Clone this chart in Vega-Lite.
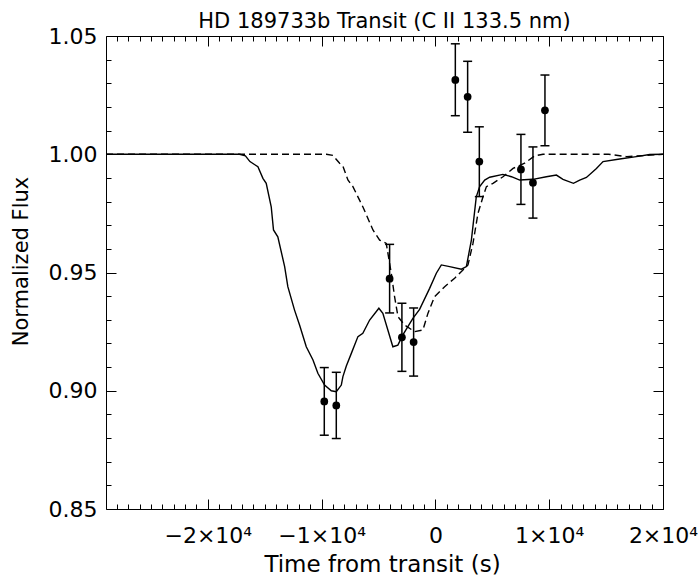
{
  "$schema": "https://vega.github.io/schema/vega-lite/v6.json",
  "width": 557,
  "height": 473,
  "autosize": {"type": "none"},
  "padding": {"left": 106, "top": 36, "right": 35, "bottom": 67},
  "background": "white",
  "config": {"view": {"stroke": "black", "strokeWidth": 1}, "axis": {"grid": false, "domain": false, "tickColor": "black", "tickWidth": 1, "labelColor": "black", "titleColor": "black", "labelFont": "DejaVu Sans", "titleFont": "DejaVu Sans", "titleFontWeight": "normal"}},
  "datasets": {
    "pts": [
      {"t": -9767, "flux": 0.8955, "lo": 0.8812, "hi": 0.9098},
      {"t": -8712, "flux": 0.8938, "lo": 0.8798, "hi": 0.9078},
      {"t": -4026, "flux": 0.9474, "lo": 0.9329, "hi": 0.9619},
      {"t": -2945, "flux": 0.9226, "lo": 0.9082, "hi": 0.937},
      {"t": -1916, "flux": 0.9206, "lo": 0.9062, "hi": 0.935},
      {"t": 1749, "flux": 1.0314, "lo": 1.0163, "hi": 1.0467},
      {"t": 2831, "flux": 1.0243, "lo": 1.0093, "hi": 1.0393},
      {"t": 3859, "flux": 0.9969, "lo": 0.9821, "hi": 1.0116},
      {"t": 7516, "flux": 0.9936, "lo": 0.9788, "hi": 1.0084},
      {"t": 8571, "flux": 0.988, "lo": 0.973, "hi": 1.0031},
      {"t": 9626, "flux": 1.0186, "lo": 1.0036, "hi": 1.0335}
    ],
    "solid": [
      {"t": -28950, "f": 1.0}, {"t": -17210, "f": 1.0}, {"t": -16700, "f": 0.9993}, {"t": -16300, "f": 0.9969},
      {"t": -15600, "f": 0.9947}, {"t": -15160, "f": 0.9898}, {"t": -14870, "f": 0.9877}, {"t": -14430, "f": 0.9778},
      {"t": -14230, "f": 0.968}, {"t": -13850, "f": 0.9651}, {"t": -13250, "f": 0.9525}, {"t": -12970, "f": 0.944},
      {"t": -12380, "f": 0.9341}, {"t": -11940, "f": 0.9278}, {"t": -11350, "f": 0.9186}, {"t": -10760, "f": 0.913},
      {"t": -10330, "f": 0.9074}, {"t": -9740, "f": 0.9024}, {"t": -9150, "f": 0.9}, {"t": -8710, "f": 0.8996},
      {"t": -8270, "f": 0.9024}, {"t": -8130, "f": 0.906}, {"t": -7830, "f": 0.9105}, {"t": -7390, "f": 0.9158},
      {"t": -6810, "f": 0.9229}, {"t": -6380, "f": 0.9243}, {"t": -5780, "f": 0.9299}, {"t": -4970, "f": 0.9349},
      {"t": -4620, "f": 0.9327}, {"t": -4180, "f": 0.9257}, {"t": -3740, "f": 0.9186}, {"t": -3300, "f": 0.9193},
      {"t": -2860, "f": 0.9236}, {"t": -1980, "f": 0.9306}, {"t": -1390, "f": 0.9344}, {"t": -510, "f": 0.9433},
      {"t": 80, "f": 0.9497}, {"t": 520, "f": 0.9532}, {"t": 1250, "f": 0.9525}, {"t": 2280, "f": 0.9514},
      {"t": 2720, "f": 0.9525}, {"t": 3160, "f": 0.9637}, {"t": 3590, "f": 0.982}, {"t": 3890, "f": 0.9863},
      {"t": 4330, "f": 0.9891}, {"t": 4770, "f": 0.9903}, {"t": 5930, "f": 0.9915}, {"t": 6680, "f": 0.9905},
      {"t": 7410, "f": 0.9891}, {"t": 8570, "f": 0.9894}, {"t": 9750, "f": 0.9905}, {"t": 10630, "f": 0.9912},
      {"t": 11210, "f": 0.9894}, {"t": 12130, "f": 0.9877}, {"t": 12680, "f": 0.9891}, {"t": 13270, "f": 0.9902},
      {"t": 14150, "f": 0.994}, {"t": 14730, "f": 0.9969}, {"t": 16190, "f": 0.998}, {"t": 17660, "f": 0.999},
      {"t": 18830, "f": 0.9999}, {"t": 20000, "f": 1.0}
    ],
    "dashed": [
      {"t": -28950, "f": 1.0}, {"t": -9590, "f": 1.0}, {"t": -9010, "f": 0.9995}, {"t": -8420, "f": 0.9962},
      {"t": -8130, "f": 0.995}, {"t": -7690, "f": 0.9891}, {"t": -7250, "f": 0.9863}, {"t": -6380, "f": 0.9778},
      {"t": -5490, "f": 0.968}, {"t": -4900, "f": 0.9637}, {"t": -4320, "f": 0.9623}, {"t": -3880, "f": 0.9497},
      {"t": -3590, "f": 0.9398}, {"t": -3290, "f": 0.9313}, {"t": -2710, "f": 0.9278}, {"t": -1830, "f": 0.925},
      {"t": -1100, "f": 0.9257}, {"t": -660, "f": 0.9327}, {"t": -70, "f": 0.9398}, {"t": 810, "f": 0.944},
      {"t": 1690, "f": 0.9476}, {"t": 2420, "f": 0.9511}, {"t": 2860, "f": 0.9532}, {"t": 3300, "f": 0.9623},
      {"t": 3740, "f": 0.975}, {"t": 4180, "f": 0.982}, {"t": 4480, "f": 0.9863}, {"t": 5060, "f": 0.9877},
      {"t": 5940, "f": 0.9905}, {"t": 6820, "f": 0.994}, {"t": 7840, "f": 0.9962}, {"t": 8720, "f": 0.9993},
      {"t": 9460, "f": 1.0}, {"t": 15200, "f": 1.0}, {"t": 16800, "f": 0.999}, {"t": 18600, "f": 0.9995},
      {"t": 20000, "f": 1.0}
    ]
  },
  "resolve": {"axis": {"x": "independent", "y": "independent"}},
  "layer": [
    {
      "mark": {"type": "rule", "color": "black", "strokeWidth": 1, "strokeDash": [1, 3]},
      "encoding": {
        "y": {"datum": 1, "type": "quantitative", "scale": {"domain": [0.85, 1.05], "nice": false, "zero": false}, "axis": null}
      }
    },
    {
      "data": {"name": "solid"},
      "mark": {"type": "line", "color": "black", "strokeWidth": 1.4, "clip": true},
      "encoding": {
        "x": {"field": "t", "type": "quantitative", "scale": {"domain": [-28950, 20000], "nice": false, "zero": false},
          "axis": {"orient": "bottom", "values": [-20000, -10000, 0, 10000, 20000], "tickSize": -10, "labelPadding": 26, "labelFontSize": 22, "labelFlush": false, "labelOverlap": false, "labelBound": false,
            "labelExpr": "datum.value == 0 ? '0' : (datum.value < 0 ? '−' : '') + (abs(datum.value) / 10000) + '×10⁴'",
            "title": "Time from transit (s)", "titleFontSize": 23, "titleX": 276, "titleY": 62, "titleBaseline": "alphabetic", "titleAlign": "center"}},
        "y": {"field": "f", "type": "quantitative", "scale": {"domain": [0.85, 1.05], "nice": false, "zero": false},
          "axis": {"orient": "left", "values": [0.85, 0.9, 0.95, 1.0, 1.05], "format": ".2f", "tickSize": -10, "labelPadding": 19, "labelFontSize": 22, "labelFlush": false, "labelOverlap": false, "labelBound": false,
            "title": "Normalized Flux", "titleFontSize": 21, "titleX": -79, "titleY": 225, "titleBaseline": "alphabetic", "titleAlign": "center", "titleAngle": -90}}
      }
    },
    {
      "data": {"name": "dashed"},
      "mark": {"type": "line", "color": "black", "strokeWidth": 1.4, "strokeDash": [7, 4], "clip": true},
      "encoding": {
        "x": {"field": "t", "type": "quantitative", "scale": {"domain": [-28950, 20000], "nice": false, "zero": false},
          "axis": {"orient": "bottom", "values": [-28000, -27000, -26000, -25000, -24000, -23000, -22000, -21000, -19000, -18000, -17000, -16000, -15000, -14000, -13000, -12000, -11000, -9000, -8000, -7000, -6000, -5000, -4000, -3000, -2000, -1000, 1000, 2000, 3000, 4000, 5000, 6000, 7000, 8000, 9000, 11000, 12000, 13000, 14000, 15000, 16000, 17000, 18000, 19000], "tickSize": -5, "labels": false, "title": null}},
        "y": {"field": "f", "type": "quantitative", "scale": {"domain": [0.85, 1.05], "nice": false, "zero": false},
          "axis": {"orient": "left", "values": [0.86, 0.87, 0.88, 0.89, 0.91, 0.92, 0.93, 0.94, 0.96, 0.97, 0.98, 0.99, 1.01, 1.02, 1.03, 1.04], "tickSize": -5, "labels": false, "title": null}}
      }
    },
    {
      "data": {"name": "pts"},
      "mark": {"type": "rule", "color": "black", "strokeWidth": 1.5},
      "encoding": {
        "x": {"field": "t", "type": "quantitative", "scale": {"domain": [-28950, 20000], "nice": false, "zero": false},
          "axis": {"orient": "top", "values": [-20000, -10000, 0, 10000, 20000], "tickSize": -10, "labels": false,
            "title": "HD 189733b Transit (C II 133.5 nm)", "titleFontSize": 21, "titleX": 278, "titleY": -9, "titleBaseline": "alphabetic", "titleAlign": "center"}},
        "y": {"field": "lo", "type": "quantitative", "scale": {"domain": [0.85, 1.05], "nice": false, "zero": false},
          "axis": {"orient": "right", "values": [0.85, 0.9, 0.95, 1.0, 1.05], "tickSize": -10, "labels": false, "title": null}},
        "y2": {"field": "hi"}
      }
    },
    {
      "data": {"name": "pts"},
      "mark": {"type": "circle", "color": "black", "opacity": 1, "size": 60},
      "encoding": {
        "x": {"field": "t", "type": "quantitative", "scale": {"domain": [-28950, 20000], "nice": false, "zero": false},
          "axis": {"orient": "top", "values": [-28000, -27000, -26000, -25000, -24000, -23000, -22000, -21000, -19000, -18000, -17000, -16000, -15000, -14000, -13000, -12000, -11000, -9000, -8000, -7000, -6000, -5000, -4000, -3000, -2000, -1000, 1000, 2000, 3000, 4000, 5000, 6000, 7000, 8000, 9000, 11000, 12000, 13000, 14000, 15000, 16000, 17000, 18000, 19000], "tickSize": -5, "labels": false, "title": null}},
        "y": {"field": "flux", "type": "quantitative", "scale": {"domain": [0.85, 1.05], "nice": false, "zero": false},
          "axis": {"orient": "right", "values": [0.86, 0.87, 0.88, 0.89, 0.91, 0.92, 0.93, 0.94, 0.96, 0.97, 0.98, 0.99, 1.01, 1.02, 1.03, 1.04], "tickSize": -5, "labels": false, "title": null}}
      }
    },
    {
      "data": {"name": "pts"},
      "mark": {"type": "tick", "color": "black", "orient": "horizontal", "size": 9, "thickness": 1.5, "opacity": 1},
      "encoding": {
        "x": {"field": "t", "type": "quantitative", "axis": null},
        "y": {"field": "hi", "type": "quantitative", "axis": null}
      }
    },
    {
      "data": {"name": "pts"},
      "mark": {"type": "tick", "color": "black", "orient": "horizontal", "size": 9, "thickness": 1.5, "opacity": 1},
      "encoding": {
        "x": {"field": "t", "type": "quantitative", "axis": null},
        "y": {"field": "lo", "type": "quantitative", "axis": null}
      }
    }
  ]
}
